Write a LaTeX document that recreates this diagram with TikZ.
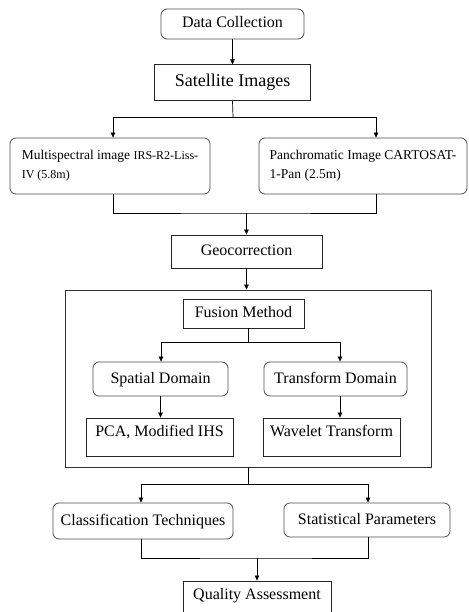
\documentclass[tikz,border=0pt]{standalone}
\usepackage{fontspec}
\setmainfont{Liberation Serif}
\usetikzlibrary{arrows.meta,positioning}

\begin{document}
\begin{tikzpicture}[
  x=1pt, y=-1pt,
  every node/.style={font=\fontsize{16}{19}\selectfont, inner sep=0pt},
  boxbase/.style={rectangle, line width=0.8pt, align=center},
  rbox/.style={boxbase, draw=black!70, rounded corners=6pt,
               text height=11pt, text depth=3pt},
  sbox/.style={boxbase, draw=black!85, text height=11pt, text depth=3pt},
  raised/.style={text depth=12pt},
  srcbox/.style={boxbase, draw=black!70, rounded corners=6pt,
                 font=\fontsize{13.5}{19}\selectfont, align=left},
  arr/.style={-{Triangle[length=5pt,width=4.5pt]}, line width=0.7pt},
  link/.style={line width=0.7pt},
  node distance=25pt
]
  \useasboundingbox (0,0) rectangle (468,612);

  \node[rbox, minimum width=143pt, minimum height=30pt] (dc) at (232.5,24)
    {Data Collection};
  \node[sbox, minimum width=156pt, minimum height=36pt,
        font=\fontsize{18}{21}\selectfont, below=of dc] (sat)
    {Satellite Images};

  \node[srcbox, minimum width=200pt, minimum height=56pt] (ms) at (110,166)
    {Multispectral image {\fontsize{12}{19}\selectfont IRS-R2-Liss-}\\
     {\fontsize{12}{19}\selectfont IV (5.8m)}};
  \node[srcbox, minimum width=208pt, minimum height=56pt] (pan) at (363,166)
    {Panchromatic Image CARTOSAT-\\1-Pan (2.5m)};

  \node[sbox, minimum width=151pt, minimum height=33pt] (geo) at (246.5,251.5)
    {Geocorrection};

  % fusion block
  \node[draw=black!80, line width=0.8pt, minimum width=366pt,
        minimum height=177pt] (fusion) at (248,378.5) {};
  \node[sbox, minimum width=121pt, minimum height=29pt] (fm) at (243.5,313.5)
    {Fusion Method};
  \node[rbox, minimum width=135pt, minimum height=34pt] (sd) at (160.5,379)
    {Spatial Domain};
  \node[rbox, minimum width=143pt, minimum height=34pt] (td) at (335.5,379)
    {Transform Domain};
  \node[sbox, raised, minimum width=147pt, minimum height=38pt] (pca) at (159.5,437)
    {PCA, Modified IHS};
  \node[sbox, raised, minimum width=137pt, minimum height=38pt] (wt) at (331.5,437)
    {Wavelet Transform};

  \node[rbox, minimum width=180pt, minimum height=36pt] (ct) at (143,521)
    {Classification Techniques};
  \node[rbox, minimum width=166pt, minimum height=34pt] (sp) at (367,520)
    {Statistical Parameters};
  \node[sbox, raised, minimum width=148pt, minimum height=38pt] (qa) at (257,600)
    {Quality Assessment};

  % connectors
  \draw[arr] (dc) -- (sat);

  \coordinate (satsplit) at (233,117);
  \draw[link] (sat.south) -- (satsplit);
  \draw[arr] (satsplit) -| ([xshift=3pt]ms.north);
  \draw[arr] (satsplit) -| ([xshift=13pt]pan.north);

  \coordinate (srcjoin) at (246.5,213);
  \draw[link] ([xshift=3pt]ms.south) |- (srcjoin) -| ([xshift=13pt]pan.south);
  \draw[arr] (srcjoin) -- (geo);
  \draw[arr] (geo.south) -- (geo.south |- fusion.north);

  \coordinate (fmsplit) at (248,342);
  \draw[link] ([xshift=4.5pt]fm.south) -- (fmsplit);
  \draw[arr] (fmsplit) -| ([xshift=0.5pt]sd.north);
  \draw[arr] (fmsplit) -| ([xshift=4.5pt]td.north);
  \draw[arr] (sd.south) -- (sd.south |- pca.north);
  \draw[arr] ([xshift=4.5pt]td.south) -- ([xshift=4.5pt]td.south |- wt.north);

  \coordinate (outsplit) at (248,484);
  \draw[link] (fusion.south) -- (outsplit);
  \draw[arr] (outsplit) -| ([xshift=-2pt]ct.north);
  \draw[arr] (outsplit) -| ([xshift=1pt]sp.north);

  \coordinate (outjoin) at (257,558);
  \draw[link] ([xshift=-2pt]ct.south) |- (outjoin) -| ([xshift=1pt]sp.south);
  \draw[arr] (outjoin) -- (qa);
\end{tikzpicture}
\end{document}
